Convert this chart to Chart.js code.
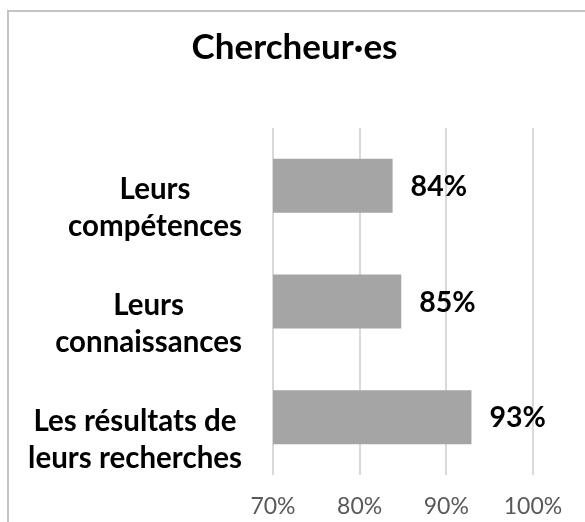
<!DOCTYPE html>
<html lang="fr">
<head>
<meta charset="utf-8">
<title>Chercheur·es</title>
<script src="https://cdn.jsdelivr.net/npm/chart.js@4.4.1/dist/chart.umd.min.js"></script>
<style>
  html,body{margin:0;padding:0;background:#fff;}
  body{width:585px;height:522px;overflow:hidden;position:relative;}
  .frame{position:absolute;left:7px;top:10px;width:640px;height:600px;border-left:2px solid #c4c4c4;border-top:2px solid #c4c4c4;}
  #chart{position:absolute;left:0;top:0;}
</style>
</head>
<body>
<div class="frame"></div>
<canvas id="chart" width="585" height="522"></canvas>
<script>
const chartTitle = 'Chercheur·es';
const categories = [['Leurs','compétences'],['Leurs','connaissances'],['Les résultats de','leurs recherches']];
const values = [83.8, 84.8, 92.9];
const valueLabels = ['84%','85%','93%'];
const tickLabels = ['70%','80%','90%','100%'];
const axisMin = 70, axisMax = 100, axisStep = 10;

const FONT = 'Lato, "Open Sans", sans-serif';

// category labels: each block right-aligned, lines centred inside it
const catLabels = {
  id:'catLabels',
  afterDraw(chart){
    const ctx=chart.ctx, ys=chart.scales.y;
    const right=242, lineH=37;
    ctx.save();
    ctx.font='bold 29.5px '+FONT;
    ctx.fillStyle='#000';
    ctx.textAlign='center';
    ctx.textBaseline='middle';
    categories.forEach((lines,i)=>{
      const y=ys.getPixelForTick(i)+4;
      const w=Math.max(...lines.map(l=>ctx.measureText(l).width));
      lines.forEach((l,j)=>ctx.fillText(l,right-w/2,y+j*lineH));
    });
    ctx.restore();
  }
};

// value labels to the right of each bar
const barValues = {
  id:'barValues',
  afterDatasetsDraw(chart){
    const ctx=chart.ctx, meta=chart.getDatasetMeta(0);
    ctx.save();
    ctx.font='bold 28.5px '+FONT;
    ctx.fillStyle='#000';
    ctx.textAlign='left';
    ctx.textBaseline='middle';
    meta.data.forEach((bar,i)=>ctx.fillText(valueLabels[i],bar.x+18,bar.y+1));
    ctx.restore();
  }
};

new Chart(document.getElementById('chart'),{
  type:'bar',
  data:{
    labels:categories.map(c=>c.join(' ')),
    datasets:[{data:values,backgroundColor:'#a5a5a5',barPercentage:0.467,categoryPercentage:1}]
  },
  options:{
    indexAxis:'y',
    responsive:false,
    animation:false,
    layout:{padding:{left:56,right:52,top:0,bottom:0}},
    plugins:{
      legend:{display:false},
      tooltip:{enabled:false},
      title:{display:true,text:chartTitle,color:'#000',font:{family:FONT,size:35,weight:'bold'},padding:{top:27,bottom:59}}
    },
    scales:{
      x:{
        min:axisMin,max:axisMax,
        afterFit:s=>{s.height=47;},
        grid:{color:'#d9d9d9',lineWidth:2,drawTicks:false},
        border:{display:false},
        ticks:{stepSize:axisStep,padding:18,color:'#595959',font:{family:FONT,size:23},callback:(v,i)=>tickLabels[i]}
      },
      y:{
        afterFit:s=>{s.width=217;},
        grid:{display:false},
        border:{display:false},
        ticks:{display:false}
      }
    }
  },
  plugins:[catLabels,barValues]
});
</script>
</body>
</html>
